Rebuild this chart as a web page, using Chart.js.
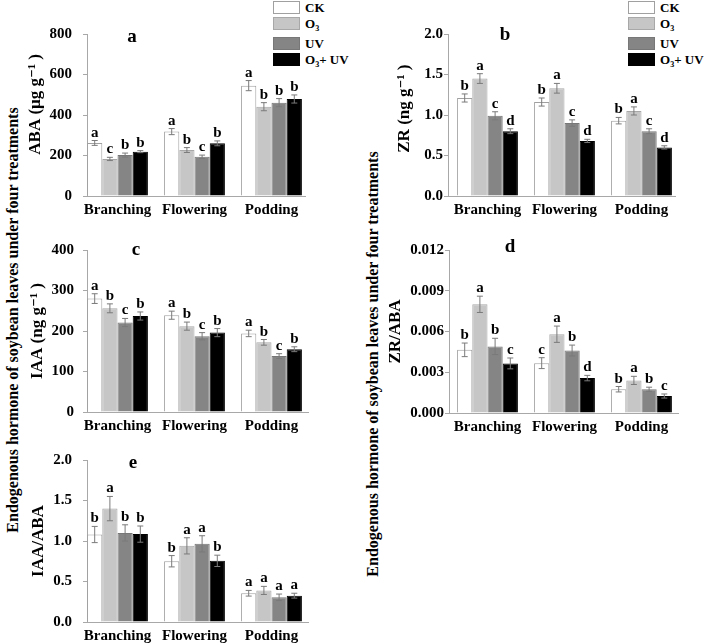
<!DOCTYPE html>
<html>
<head>
<meta charset="utf-8">
<script src="https://cdn.jsdelivr.net/npm/chart.js@4.4.1/dist/chart.umd.min.js"></script>
<style>
  body { margin: 0; background: #fff; width: 705px; height: 643px; overflow: hidden; position: relative;
         font-family: "Liberation Serif", "DejaVu Serif", serif; }
  canvas { position: absolute; }
  .side { position: absolute; white-space: nowrap; font-weight: bold; transform: translate(-50%, -50%) rotate(-90deg); }
  .lg { position: absolute; font-weight: bold; font-size: 13px; }
  .lg .box { position: absolute; width: 25px; height: 11px; border: 1px solid #9a9a9a; }
  .lg .txt { position: absolute; line-height: 13px; white-space: nowrap; }
  .lg sub { font-size: 8px; vertical-align: -3px; }
</style>
</head>
<body>
<div class="side" style="left:13px; top:320px; font-size:16px;">Endogenous hormone of soybean leaves under four treatments</div>
<div class="side" style="left:373px; top:364px; font-size:16px;">Endogenous hormone of soybean leaves under four treatments</div>
<div class="lg" id="legend1" style="left:273px; top:0px;"></div>
<div class="lg" id="legend2" style="left:628px; top:0px;"></div>

<script>
const categories = ['Branching', 'Flowering', 'Podding'];
const treatments = ['CK', 'O3', 'UV', 'O3+ UV'];
const fills = ['#ffffff', '#c6c6c6', '#858585', '#000000'];
const edges = ['#a0a0a0', '#a8a8a8', '#777777', '#000000'];

// one row per treatment, one value per stage
const abaMean = [[262, 318, 545], [183, 227, 441], [202, 194, 461], [219, 260, 479]];
const abaErr  = [[12, 15, 25], [8, 12, 20], [10, 8, 20], [5, 12, 20]];
const abaSig  = [['a', 'a', 'a'], ['c', 'b', 'b'], ['b', 'c', 'b'], ['b', 'b', 'b']];

const zrMean = [[1.21, 1.16, 0.93], [1.45, 1.33, 1.05], [0.99, 0.90, 0.80], [0.80, 0.68, 0.60]];
const zrErr  = [[0.05, 0.05, 0.04], [0.06, 0.06, 0.05], [0.05, 0.04, 0.03], [0.03, 0.02, 0.02]];
const zrSig  = [['b', 'b', 'b'], ['a', 'a', 'a'], ['c', 'c', 'c'], ['d', 'd', 'd']];

const iaaMean = [[280, 239, 194], [256, 212, 172], [221, 187, 138], [237, 196, 155]];
const iaaErr  = [[12, 10, 8], [11, 10, 7], [10, 9, 6], [10, 10, 6]];
const iaaSig  = [['a', 'a', 'a'], ['b', 'b', 'b'], ['c', 'c', 'c'], ['b', 'b', 'b']];

const zrAbaMean = [[0.00465, 0.00367, 0.00175], [0.0080, 0.0058, 0.0024], [0.0049, 0.0046, 0.00175], [0.00365, 0.00257, 0.00125]];
const zrAbaErr  = [[0.0005, 0.0004, 0.0002], [0.0006, 0.0006, 0.0003], [0.0006, 0.0004, 0.00015], [0.0004, 0.0002, 0.00015]];
const zrAbaSig  = [['b', 'c', 'b'], ['a', 'a', 'a'], ['b', 'b', 'b'], ['c', 'd', 'c']];

const iaaAbaMean = [[1.08, 0.75, 0.355], [1.40, 0.94, 0.39], [1.10, 0.965, 0.305], [1.085, 0.755, 0.325]];
const iaaAbaErr  = [[0.10, 0.07, 0.035], [0.15, 0.10, 0.05], [0.10, 0.10, 0.04], [0.10, 0.07, 0.03]];
const iaaAbaSig  = [['b', 'b', 'a'], ['a', 'a', 'a'], ['b', 'a', 'a'], ['b', 'b', 'a']];

const FONT = '"Liberation Serif", "DejaVu Serif", serif';
Chart.defaults.font.family = FONT;
Chart.defaults.color = '#000';

// legends (HTML, shared by the panels)
function buildLegend(id) {
  const el = document.getElementById(id);
  const tops = [1, 17, 37, 53];
  const names = ['CK', 'O<sub>3</sub>', 'UV', 'O<sub>3</sub>+ UV'];
  tops.forEach((t, i) => {
    el.innerHTML += `<div class="box" style="left:0;top:${t}px;background:${fills[i]};border-color:${edges[i]}"></div>` +
                    `<div class="txt" style="left:32px;top:${t}px">${names[i]}</div>`;
  });
}
buildLegend('legend1');
buildLegend('legend2');

// panel geometry (page pixels); leading nbsp nudges a couple of titles upward like the original
const panels = [
  { letter: 'a', ax: 87,  top: 34,  bottom: 196, right: 305, c0: 30.5, yMax: 800,   step: 200,   dec: 0, title: '\u00a0\u00a0\u00a0\u00a0\u00a0ABA (μg g⁻¹ )', titleX: 36,  tickPad: 11, ldx: 45, ldy: 3,  mean: abaMean,    err: abaErr,    sig: abaSig },
  { letter: 'b', ax: 448, top: 34,  bottom: 196, right: 675, c0: 39.5, yMax: 2.0,   step: 0.5,   dec: 1, title: '\u00a0\u00a0\u00a0ZR (ng g⁻¹ )',  titleX: 405, tickPad: 1,  ldx: 57, ldy: 1,  mean: zrMean,     err: zrErr,     sig: zrSig },
  { letter: 'c', ax: 87,  top: 250, bottom: 412, right: 308, c0: 30.5, yMax: 400,   step: 100,   dec: 0, title: 'IAA (ng g⁻¹ )', titleX: 38,  tickPad: 9,  ldx: 49, ldy: 0,  mean: iaaMean,    err: iaaErr,    sig: iaaSig },
  { letter: 'd', ax: 449, top: 250, bottom: 413, right: 678, c0: 38.5, yMax: 0.012, step: 0.003, dec: 3, title: 'ZR/ABA',        titleX: 396, tickPad: 1,  ldx: 61, ldy: -3, mean: zrAbaMean,  err: zrAbaErr,  sig: zrAbaSig },
  { letter: 'e', ax: 87,  top: 460, bottom: 622, right: 308, c0: 30.5, yMax: 2.0,   step: 0.5,   dec: 1, title: 'IAA/ABA',       titleX: 39,  tickPad: 11, ldx: 46, ldy: 3,  mean: iaaAbaMean, err: iaaAbaErr, sig: iaaAbaSig }
];

const SPACING = 77;   // px between stage centres
const Y_W = 87, PAD_T = 34, PAD_R = 25, X_H = 29;

// error bars, significance letters and panel letter
function marksPlugin(p) {
  return {
    id: 'marks',
    afterDatasetsDraw(chart) {
      const ctx = chart.ctx;
      const y = chart.scales.y;
      ctx.save();
      p.mean.forEach((row, di) => {
        chart.getDatasetMeta(di).data.forEach((bar, i) => {
          const top = y.getPixelForValue(row[i] + p.err[di][i]);
          const bot = y.getPixelForValue(row[i] - p.err[di][i]);
          ctx.strokeStyle = '#7a7a7a';
          ctx.lineWidth = 1;
          ctx.beginPath();
          ctx.moveTo(bar.x, top); ctx.lineTo(bar.x, bot);
          ctx.moveTo(bar.x - 3, top); ctx.lineTo(bar.x + 3, top);
          ctx.moveTo(bar.x - 3, bot); ctx.lineTo(bar.x + 3, bot);
          ctx.stroke();
          ctx.fillStyle = '#000';
          ctx.font = 'bold 15px ' + FONT;
          ctx.textAlign = 'center';
          ctx.textBaseline = 'alphabetic';
          ctx.fillText(p.sig[di][i], bar.x, top - 4);
        });
      });
      ctx.font = 'bold 19px ' + FONT;
      ctx.textAlign = 'center';
      ctx.textBaseline = 'middle';
      ctx.fillText(p.letter, chart.chartArea.left + p.ldx, chart.chartArea.top + p.ldy);
      ctx.restore();
    }
  };
}

panels.forEach(p => {
  const plotW = p.right - p.ax;
  const plotH = p.bottom - p.top;
  const cv = document.createElement('canvas');
  cv.width = plotW + Y_W + PAD_R;
  cv.height = plotH + PAD_T + X_H;
  cv.style.left = (p.ax - Y_W) + 'px';
  cv.style.top = (p.top - PAD_T) + 'px';
  document.body.appendChild(cv);

  const xMin = -p.c0 / SPACING;
  const xMax = (plotW - p.c0) / SPACING;

  new Chart(cv, {
    type: 'bar',
    data: {
      datasets: treatments.map((t, di) => ({
        label: t,
        data: p.mean[di].map((v, i) => ({ x: i, y: v })),
        backgroundColor: fills[di],
        borderColor: edges[di],
        borderWidth: 1,
        categoryPercentage: 0.79,
        barPercentage: 1.0
      }))
    },
    options: {
      responsive: false,
      animation: false,
      layout: { padding: { left: 0, top: PAD_T, right: PAD_R, bottom: 0 } },
      plugins: { legend: { display: false }, tooltip: { enabled: false } },
      scales: {
        x: {
          type: 'linear',
          min: xMin,
          max: xMax,
          offset: false,
          grid: { display: false, drawTicks: false, offset: false },
          border: { color: '#a8a8a8', width: 1 },
          afterBuildTicks: s => { s.ticks = categories.map((c, i) => ({ value: i })); },
          afterFit: s => { s.height = X_H; },
          ticks: {
            autoSkip: false, maxRotation: 0, padding: 5,
            font: { size: 15, weight: 'bold' },
            callback: v => categories[v]
          }
        },
        y: {
          min: 0,
          max: p.yMax,
          grid: { drawOnChartArea: false, tickLength: 4, color: '#a8a8a8' },
          border: { color: '#a8a8a8', width: 1 },
          afterFit: s => { s.width = Y_W; },
          ticks: {
            stepSize: p.step, padding: p.tickPad,
            font: { size: 15, weight: 'bold' },
            callback: v => v.toFixed(p.dec)
          },
          title: {
            display: true, text: p.title,
            font: { size: 17, weight: 'bold' },
            padding: { top: p.titleX - p.ax + Y_W - 10.2, bottom: 0 }
          }
        }
      }
    },
    plugins: [marksPlugin(p)]
  });
});
</script>
</body>
</html>
